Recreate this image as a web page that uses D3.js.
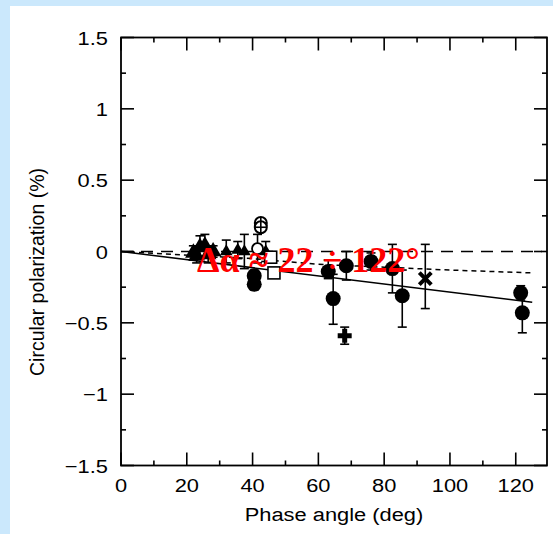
<!DOCTYPE html>
<html><head><meta charset="utf-8">
<script src="https://cdn.jsdelivr.net/npm/d3@7"></script>
<style>
html,body{margin:0;padding:0;background:#cbe8fc;}
svg{display:block;}
</style></head>
<body>
<script>
// ---- data ----
const xTicks = [0,20,40,60,80,100,120];
const yTicks = [-1.5,-1,-0.5,0,0.5,1,1.5];
const yTickLabels = ["\u22121.5","\u22121","\u22120.5","0","0.5","1","1.5"];
// [phase, value, errLow, errHigh]
const filledCircles = [
  [40.5,-0.17,0.04,0.04],[40.5,-0.23,0.04,0.04],[63,-0.14,0.05,0.08],
  [64.5,-0.33,0.18,0.17],[68.5,-0.10,0.10,0.10],[76,-0.07,0.06,0.06],
  [82.5,-0.12,0.17,0.17],[85.5,-0.31,0.22,0.18],[121.5,-0.29,0.05,0.05],
  [122,-0.43,0.14,0.12]
];
const filledTriangles = [
  [22,-0.01,0.05,0.05],[23,-0.03,0.05,0.05],[24,0.03,0.08,0.08],
  [25.5,0.04,0.08,0.08],[26.5,-0.02,0.06,0.06],[28,0.0,0.04,0.04]
];
const smallTriangles = [
  [32,0.0,0.08,0.08],[35.5,0.01,0.06,0.06],[37.5,0.0,0.12,0.12],[44,0.0,0.07,0.07]
];
const openCircles = [[41.5,0.02,0.1,0.1]];
const crossCircles = [[42.5,0.2,0.03,0.03],[42.5,0.17,0.0,0.0]];
const openSquares = [[45.5,-0.04,0,0],[46.5,-0.15,0,0]];
const xMarks = [[92.5,-0.19,0.21,0.24]];
const plusMarks = [[68,-0.59,0.06,0.06]];
const zeroLine = [[0,0],[128,0]];
const shortDashLine = [[0,0],[40,-0.05],[60,-0.09],[80,-0.11],[100,-0.13],[125,-0.15]];
const solidLine = [[0,0],[125,-0.355]];

// ---- layout ----
const W=553,H=534;
const svg=d3.select("body").append("svg").attr("width",W).attr("height",H);
svg.append("rect").attr("x",10).attr("y",6).attr("width",W-10).attr("height",H-6).attr("fill","#fff");
const L=121,R=547,T=37.5,B=465.5;
const x=d3.scaleLinear().domain([0,129.5]).range([L,R]);
const y=d3.scaleLinear().domain([-1.5,1.5]).range([B,T]);
const font="'Liberation Sans', Arial, Helvetica, sans-serif";
const SX=1.15;

// ticks
const g=svg.append("g").attr("stroke","#000").attr("stroke-width",1.6);
d3.range(0,130,10).forEach(v=>{
  const len=(v%20===0)?13:5;
  g.append("line").attr("x1",x(v)).attr("x2",x(v)).attr("y1",B).attr("y2",B-len);
  g.append("line").attr("x1",x(v)).attr("x2",x(v)).attr("y1",T).attr("y2",T+len);
});
d3.range(-1.5,1.51,0.25).forEach(v=>{
  const len=(Math.abs((v*2)-Math.round(v*2))<1e-6)?13:5;
  g.append("line").attr("x1",L).attr("x2",L+len).attr("y1",y(v)).attr("y2",y(v));
  g.append("line").attr("x1",R).attr("x2",R-len).attr("y1",y(v)).attr("y2",y(v));
});
svg.append("rect").attr("x",L).attr("y",T).attr("width",R-L).attr("height",B-T)
  .attr("fill","none").attr("stroke","#000").attr("stroke-width",1.8);

// tick labels
xTicks.forEach(v=>{
  svg.append("text").attr("transform",`translate(${x(v)},${492}) scale(${SX},1)`)
    .attr("text-anchor","middle").attr("font-family",font).attr("font-size",19).attr("fill","#000").text(v);
});
yTicks.forEach((v,i)=>{
  svg.append("text").attr("transform",`translate(${108},${y(v)+7}) scale(${SX},1)`)
    .attr("text-anchor","end").attr("font-family",font).attr("font-size",19).attr("fill","#000").text(yTickLabels[i]);
});
svg.append("text").attr("transform",`translate(${334},${521}) scale(${SX},1)`)
  .attr("text-anchor","middle").attr("font-family",font).attr("font-size",19).attr("fill","#000").text("Phase angle (deg)");
svg.append("text").attr("transform",`translate(${44},${272}) rotate(-90)`)
  .attr("text-anchor","middle").attr("font-family",font).attr("font-size",19.5).attr("fill","#000").text("Circular polarization (%)");

// lines
const line=d3.line().x(d=>x(d[0])).y(d=>y(d[1]));
svg.append("path").attr("d",line(zeroLine)).attr("fill","none").attr("stroke","#000").attr("stroke-width",1.5).attr("stroke-dasharray","12,8");
svg.append("path").attr("d",line(shortDashLine)).attr("fill","none").attr("stroke","#000").attr("stroke-width",1.5).attr("stroke-dasharray","5,4");
svg.append("path").attr("d",line(solidLine)).attr("fill","none").attr("stroke","#000").attr("stroke-width",1.5);

// error bars
const allPts=[...filledCircles,...filledTriangles,...smallTriangles,...openCircles,...crossCircles,...openSquares,...xMarks,...plusMarks];
const eb=svg.append("g").attr("stroke","#000").attr("stroke-width",1.6);
allPts.forEach(d=>{
  if(d[2]===0&&d[3]===0) return;
  const cx=x(d[0]), y1=y(d[1]-d[2]), y2=y(d[1]+d[3]);
  eb.append("line").attr("x1",cx).attr("x2",cx).attr("y1",y1).attr("y2",y2);
  eb.append("line").attr("x1",cx-4.5).attr("x2",cx+4.5).attr("y1",y1).attr("y2",y1);
  eb.append("line").attr("x1",cx-4.5).attr("x2",cx+4.5).attr("y1",y2).attr("y2",y2);
});

// markers
const m=svg.append("g");
filledCircles.forEach(d=>m.append("circle").attr("cx",x(d[0])).attr("cy",y(d[1])).attr("r",7.5).attr("fill","#000"));
const tri=d3.symbol().type(d3.symbolTriangle).size(120);
const triS=d3.symbol().type(d3.symbolTriangle).size(70);
filledTriangles.forEach(d=>m.append("path").attr("d",tri()).attr("transform",`translate(${x(d[0])},${y(d[1])})`).attr("fill","#000"));
smallTriangles.forEach(d=>m.append("path").attr("d",triS()).attr("transform",`translate(${x(d[0])},${y(d[1])})`).attr("fill","#000"));
openCircles.forEach(d=>m.append("circle").attr("cx",x(d[0])).attr("cy",y(d[1])).attr("r",5.5).attr("fill","#fff").attr("stroke","#000").attr("stroke-width",1.8));
crossCircles.forEach(d=>{
  const cx=x(d[0]), cy=y(d[1]);
  m.append("circle").attr("cx",cx).attr("cy",cy).attr("r",6).attr("fill","#fff").attr("stroke","#000").attr("stroke-width",2);
  m.append("line").attr("x1",cx-6).attr("x2",cx+6).attr("y1",cy).attr("y2",cy).attr("stroke","#000").attr("stroke-width",1.6);
  m.append("line").attr("x1",cx).attr("x2",cx).attr("y1",cy-6).attr("y2",cy+6).attr("stroke","#000").attr("stroke-width",1.6);
});
openSquares.forEach(d=>m.append("rect").attr("x",x(d[0])-6).attr("y",y(d[1])-6).attr("width",12).attr("height",12).attr("fill","#fff").attr("stroke","#000").attr("stroke-width",1.6));
xMarks.forEach(d=>{
  const cx=x(d[0]), cy=y(d[1]);
  m.append("path").attr("d",`M${cx-6},${cy-6}L${cx+6},${cy+6}M${cx-6},${cy+6}L${cx+6},${cy-6}`).attr("stroke","#000").attr("stroke-width",4);
});
plusMarks.forEach(d=>{
  const cx=x(d[0]), cy=y(d[1]);
  m.append("path").attr("d",`M${cx-7},${cy}L${cx+7},${cy}M${cx},${cy-7}L${cx},${cy+7}`).attr("stroke","#000").attr("stroke-width",5);
});

// annotation
svg.append("text").attr("x",197).attr("y",272).attr("font-family","'Liberation Serif','Times New Roman',serif")
  .attr("font-weight","bold").attr("font-size",36).attr("fill","#ff0000").text("\u0394\u03b1 \u2248 22 \u00f7 122\u00b0");
</script>
</body></html>
